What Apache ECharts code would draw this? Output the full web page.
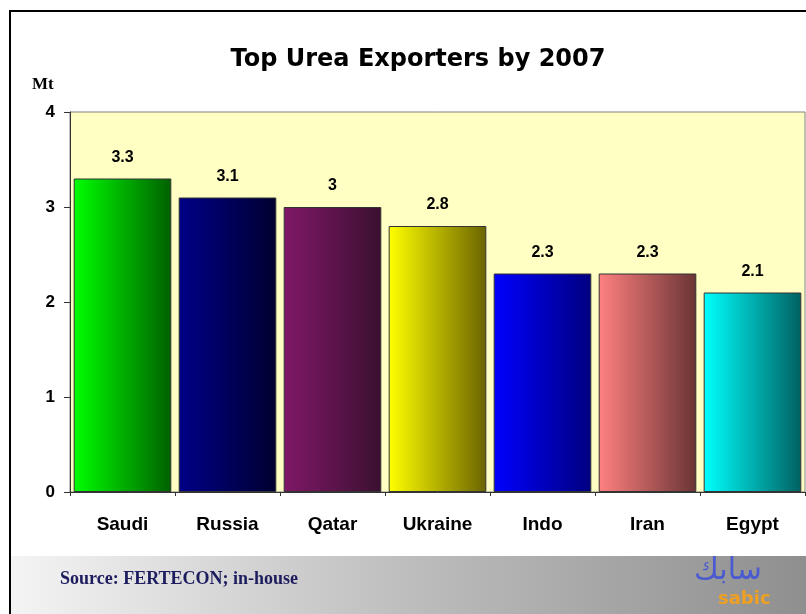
<!DOCTYPE html>
<html>
<head>
<meta charset="utf-8">
<script src="https://cdn.jsdelivr.net/npm/echarts@6/dist/echarts.min.js"></script>
<style>
  html, body { margin: 0; padding: 0; background: #fff; }
  #chart { width: 806px; height: 614px; }
</style>
</head>
<body>
<div id="chart"></div>
<script>
// 数据
const countries = ["Saudi", "Russia", "Qatar", "Ukraine", "Indo", "Iran", "Egypt"];
const exports2007 = [3.3, 3.1, 3, 2.8, 2.3, 2.3, 2.1];
// 每根柱子的渐变色 (左 -> 右)
const barColors = [
  ["#00ff00", "#006000"],
  ["#000088", "#000030"],
  ["#801868", "#3a1030"],
  ["#ffff00", "#6a6400"],
  ["#0000ff", "#000080"],
  ["#ff8080", "#6a3434"],
  ["#00ffff", "#006060"]
];

const myChart = echarts.init(document.getElementById("chart"));

const options = {
  animation: false,
  title: {
    text: "Top Urea Exporters by 2007",
    left: 413,
    top: 43,
    textAlign: "center",
    textStyle: {
      fontFamily: "DejaVu Sans",
      fontWeight: "bold",
      fontSize: 24,
      color: "#000"
    }
  },
  graphic: [
    // 外框
    {
      type: "rect",
      shape: { x: 10, y: 11, width: 810, height: 620 },
      style: { fill: "none", stroke: "#000", lineWidth: 2 },
      z: -1
    },
    // 底部灰色条
    {
      type: "rect",
      shape: { x: 11, y: 556, width: 800, height: 60 },
      style: {
        fill: new echarts.graphic.LinearGradient(0, 0, 1, 0, [
          { offset: 0, color: "#f4f4f4" },
          { offset: 0.5, color: "#bdbdbd" },
          { offset: 1, color: "#8e8e8e" }
        ])
      },
      z: -1
    },
    {
      type: "text",
      left: 60,
      top: 570,
      style: {
        text: "Source: FERTECON; in-house",
        font: "bold 18px 'Liberation Serif'",
        fill: "#1c1c5e"
      }
    },
    {
      type: "text",
      left: 694,
      top: 556,
      style: {
        text: "سابك",
        font: "30px 'DejaVu Sans'",
        fill: "#4a5ad0"
      }
    },
    {
      type: "text",
      left: 718,
      top: 590,
      style: {
        text: "sabic",
        font: "bold 18px 'DejaVu Sans'",
        fill: "#f0a020"
      }
    },
    {
      type: "text",
      left: 32,
      top: 76,
      style: {
        text: "Mt",
        font: "bold 17px 'Liberation Serif'",
        fill: "#000"
      }
    }
  ],
  grid: {
    left: 70,
    right: 1,
    top: 112,
    bottom: 122,
    show: true,
    backgroundColor: "#ffffc4",
    borderColor: "#808080",
    borderWidth: 1
  },
  xAxis: {
    type: "category",
    data: countries,
    axisLine: { lineStyle: { color: "#333", width: 1 } },
    axisTick: { show: true, length: 4, lineStyle: { color: "#333" } },
    axisLabel: {
      margin: 23,
      fontFamily: "Liberation Sans",
      fontWeight: "bold",
      fontSize: 19,
      color: "#000"
    }
  },
  yAxis: {
    type: "value",
    min: 0,
    max: 4,
    interval: 1,
    splitLine: { show: false },
    axisLine: { show: true, lineStyle: { color: "#333", width: 1 } },
    axisTick: { show: true, length: 6, lineStyle: { color: "#333" } },
    axisLabel: {
      margin: 15,
      fontFamily: "Liberation Sans",
      fontWeight: "bold",
      fontSize: 17,
      color: "#000"
    }
  },
  series: [
    {
      type: "bar",
      barCategoryGap: "7%",
      data: exports2007.map((v, i) => ({
        value: v,
        itemStyle: {
          color: new echarts.graphic.LinearGradient(0, 0, 1, 0, [
            { offset: 0, color: barColors[i][0] },
            { offset: 1, color: barColors[i][1] }
          ]),
          borderColor: "#333",
          borderWidth: 1
        }
      })),
      label: {
        show: true,
        position: "top",
        distance: 13,
        fontFamily: "Liberation Sans",
        fontWeight: "bold",
        fontSize: 16,
        color: "#000"
      }
    }
  ]
};

myChart.setOption(options);
</script>
</body>
</html>
